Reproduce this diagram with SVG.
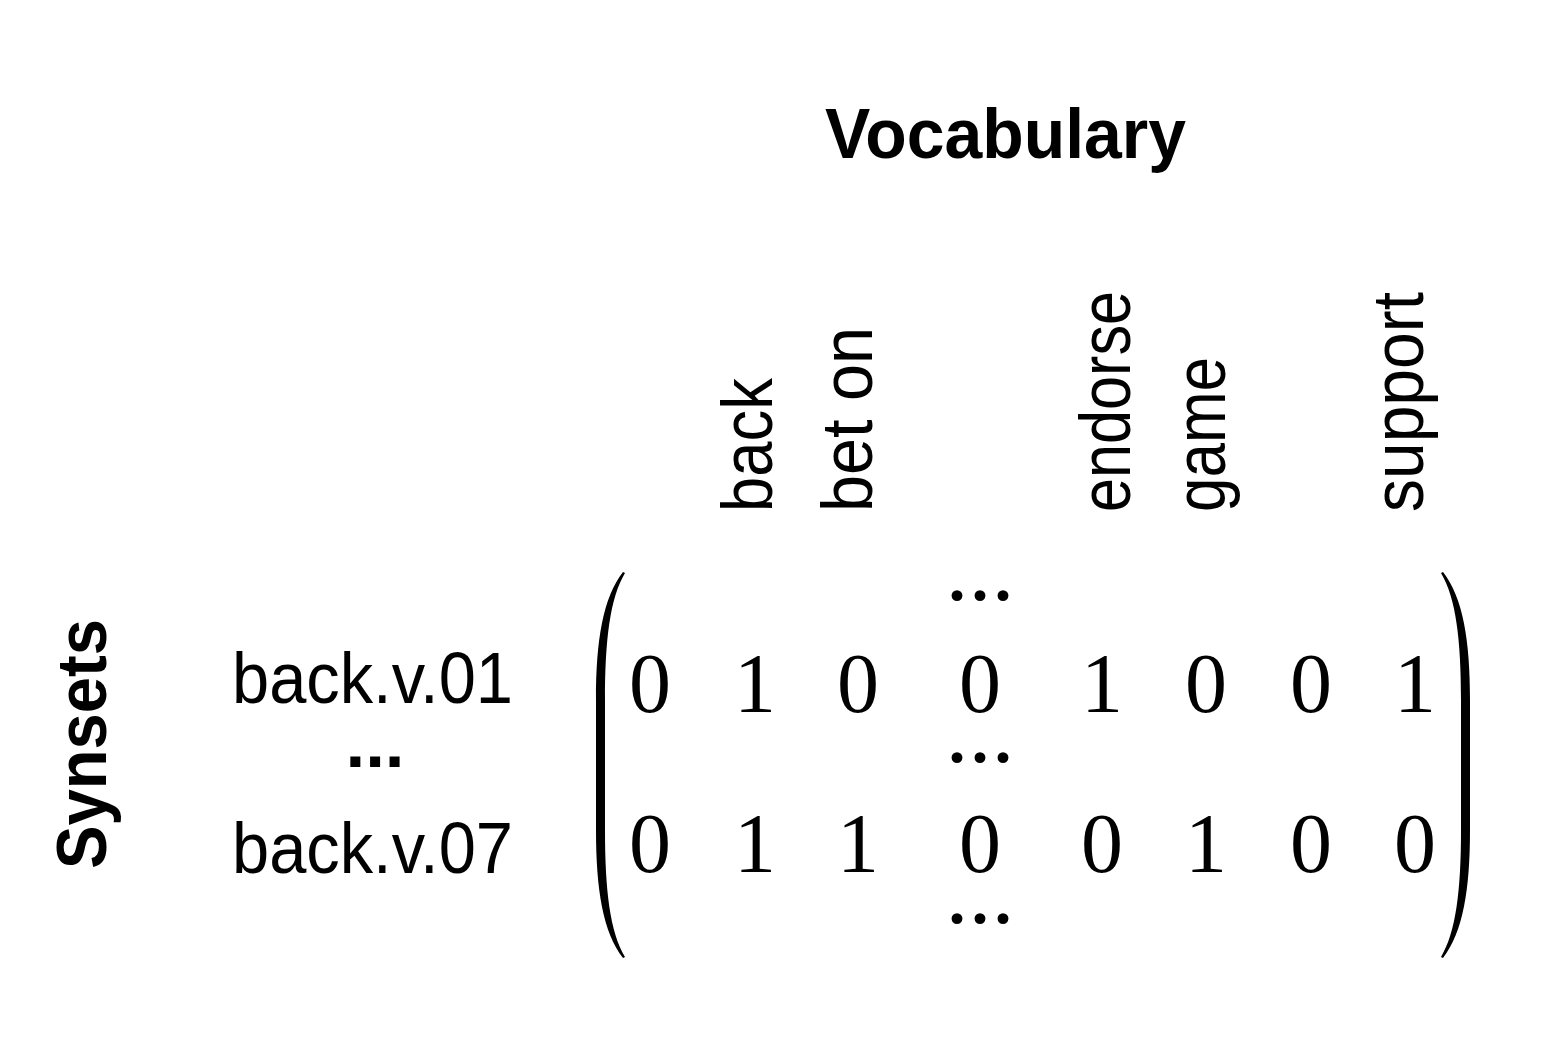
<svg xmlns="http://www.w3.org/2000/svg" width="1558" height="1058" viewBox="0 0 1558 1058">
  <style>
    .title { font-family: "Liberation Sans", Arial, sans-serif; font-weight: bold; font-size: 71px; fill: #000; }
    .lbl { font-family: "Liberation Sans", Arial, sans-serif; font-size: 72px; fill: #000; }
    .num { font-family: "Liberation Serif", "Times New Roman", serif; font-size: 84px; fill: #000; text-anchor: middle; }
    .dots { font-family: "Liberation Serif", "Times New Roman", serif; font-size: 92px; fill: #000; text-anchor: middle; }
    .paren { fill: #000; stroke: none; }
  </style>
  <rect width="1558" height="1058" fill="#fff"/>

  <g id="title-vocabulary">
    <text class="title" x="825" y="158" textLength="361" lengthAdjust="spacingAndGlyphs">Vocabulary</text>
  </g>

  <g id="title-synsets">
    <text class="title" transform="translate(106,869) rotate(-90)" x="0" y="0" textLength="250" lengthAdjust="spacingAndGlyphs">Synsets</text>
  </g>

  <g id="column-labels">
    <text class="lbl" transform="translate(772,512) rotate(-90)" textLength="134" lengthAdjust="spacingAndGlyphs">back</text>
    <text class="lbl" transform="translate(872,512) rotate(-90)" textLength="185" lengthAdjust="spacingAndGlyphs">bet on</text>
    <text class="lbl" transform="translate(1130,512) rotate(-90)" textLength="221" lengthAdjust="spacingAndGlyphs">endorse</text>
    <text class="lbl" transform="translate(1225,512) rotate(-90)" textLength="155" lengthAdjust="spacingAndGlyphs">game</text>
    <text class="lbl" transform="translate(1423,512) rotate(-90)" textLength="220" lengthAdjust="spacingAndGlyphs">support</text>
  </g>

  <g id="row-labels">
    <text class="lbl" x="232" y="703" textLength="281" lengthAdjust="spacingAndGlyphs">back.v.01</text>
    <text class="title" x="375" y="767" text-anchor="middle">...</text>
    <text class="lbl" x="232" y="873" textLength="281" lengthAdjust="spacingAndGlyphs">back.v.07</text>
  </g>

  <g id="matrix">
    <path class="paren" d="M623,572 C603,598 596,640 596,700 L596,830 C596,890 603,932 623,958 L625,957 C610,932 605,890 605,830 L605,700 C605,640 610,598 625,573 Z"/>
    <path class="paren" d="M1443,572 C1463,598 1470,640 1470,700 L1470,830 C1470,890 1463,932 1443,958 L1441,957 C1456,932 1461,890 1461,830 L1461,700 C1461,640 1456,598 1441,573 Z"/>

    <text class="dots" x="980" y="600">...</text>
    <text class="dots" x="980" y="762">...</text>
    <text class="dots" x="980" y="923">...</text>

    <g id="row1">
      <text class="num" x="650" y="712">0</text>
      <text class="num" x="755" y="712">1</text>
      <text class="num" x="858" y="712">0</text>
      <text class="num" x="980" y="712">0</text>
      <text class="num" x="1102" y="712">1</text>
      <text class="num" x="1206" y="712">0</text>
      <text class="num" x="1311" y="712">0</text>
      <text class="num" x="1415" y="712">1</text>
    </g>
    <g id="row2">
      <text class="num" x="650" y="872">0</text>
      <text class="num" x="755" y="872">1</text>
      <text class="num" x="858" y="872">1</text>
      <text class="num" x="980" y="872">0</text>
      <text class="num" x="1102" y="872">0</text>
      <text class="num" x="1206" y="872">1</text>
      <text class="num" x="1311" y="872">0</text>
      <text class="num" x="1415" y="872">0</text>
    </g>
  </g>
</svg>
